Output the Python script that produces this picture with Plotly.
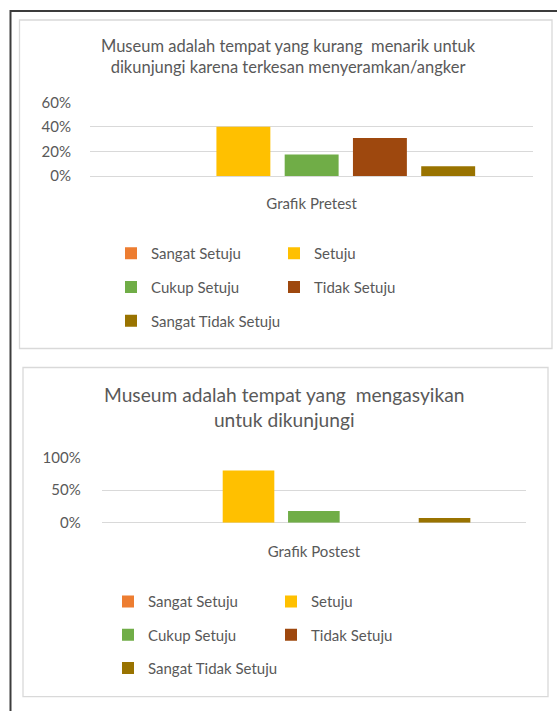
import plotly.graph_objects as go

W, H = 557, 711

categories = ["Sangat Setuju", "Setuju", "Cukup Setuju", "Tidak Setuju", "Sangat Tidak Setuju"]
colors = ["#ED7D31", "#FFC000", "#70AD47", "#9E480E", "#997300"]

pre_label = ["Grafik Pretest"]
pre_values = [0.0, 0.40, 0.176, 0.31, 0.08]
pre_title = "Museum adalah tempat yang kurang  menarik untuk<br>dikunjungi karena terkesan menyeramkan/angker"

post_label = ["Grafik Postest"]
post_values = [0.0, 0.80, 0.18, 0.0, 0.07]
post_title = "Museum adalah tempat yang  mengasyikan<br>untuk dikunjungi"

FONT = "Lato"
GRAY = "#595959"
GRID = "#D9D9D9"


def X(px):
    return px / W


def Y(px):
    return 1 - px / H


fig = go.Figure()

for i, (name, col, v) in enumerate(zip(categories, colors, pre_values)):
    row = i // 2
    fig.add_trace(go.Bar(
        x=pre_label, y=[v], name=name, marker=dict(color=col, line=dict(width=0)),
        xaxis="x", yaxis="y", legend=["legend", "legend2", "legend3"][row]))

for i, (name, col, v) in enumerate(zip(categories, colors, post_values)):
    row = i // 2
    fig.add_trace(go.Bar(
        x=post_label, y=[v], name=name, marker=dict(color=col, line=dict(width=0)),
        xaxis="x2", yaxis="y2", legend=["legend4", "legend5", "legend6"][row]))

axis_font = dict(family=FONT, size=15, color=GRAY)

layout = dict(
    width=W, height=H,
    margin=dict(l=0, r=0, t=0, b=0, autoexpand=False),
    paper_bgcolor="white", plot_bgcolor="white",
    barmode="group", bargap=0.23, bargroupgap=0.21,
    font=dict(family=FONT, color=GRAY),
    xaxis=dict(domain=[X(90), X(533.3)], anchor="y", showgrid=False, showline=False,
               zeroline=False, ticks="outside", ticklen=14, tickcolor="rgba(0,0,0,0)",
               tickfont=axis_font, fixedrange=True, automargin=False),
    yaxis=dict(domain=[Y(176), Y(102.3)], anchor="x", range=[0, 0.6], dtick=0.2,
               tickformat=".0%", showgrid=True, gridcolor=GRID, gridwidth=1,
               zeroline=True, zerolinecolor=GRID, zerolinewidth=1, showline=False,
               ticks="outside", ticklen=15, tickcolor="rgba(0,0,0,0)",
               tickfont=axis_font, fixedrange=True, automargin=False),
    xaxis2=dict(domain=[X(101.7), X(526)], anchor="y2", showgrid=False, showline=False,
                zeroline=False, ticks="outside", ticklen=15, tickcolor="rgba(0,0,0,0)",
                tickfont=axis_font, fixedrange=True, automargin=False),
    yaxis2=dict(domain=[Y(522.7), Y(457.3)], anchor="x2", range=[0, 1], dtick=0.5,
                tickformat=".0%", showgrid=True, gridcolor=GRID, gridwidth=1,
                zeroline=True, zerolinecolor=GRID, zerolinewidth=1, showline=False,
                ticks="outside", ticklen=17, tickcolor="rgba(0,0,0,0)",
                tickfont=axis_font, fixedrange=True, automargin=False),
    showlegend=True,
)

legend_rows = [
    ("legend", 111, 253.5, 118), ("legend2", 111, 287.3, 118), ("legend3", 111, 321, 170),
    ("legend4", 108, 601.7, 118), ("legend5", 108, 635, 118), ("legend6", 108, 668.3, 170),
]
for key, lx, ly, ew in legend_rows:
    layout[key] = dict(orientation="h", x=X(lx), xanchor="left", y=Y(ly), yanchor="middle",
                       entrywidth=ew, entrywidthmode="pixels", bgcolor="rgba(0,0,0,0)",
                       borderwidth=0, font=dict(family=FONT, size=15, color=GRAY),
                       itemclick=False, itemdoubleclick=False)

layout["annotations"] = [
    dict(text=pre_title, x=X(288.5), y=Y(56.5), xref="paper", yref="paper", showarrow=False,
         xanchor="center", yanchor="middle", align="center",
         font=dict(family=FONT, size=16.5, color=GRAY)),
    dict(text=post_title, x=X(284), y=Y(406.5), xref="paper", yref="paper", showarrow=False,
         xanchor="center", yanchor="middle", align="center",
         font=dict(family=FONT, size=19.2, color=GRAY)),
]

layout["shapes"] = [
    dict(type="rect", xref="paper", yref="paper", x0=X(10.5), x1=X(570), y0=Y(11), y1=Y(720),
         line=dict(color="#3C3C3C", width=2), layer="above"),
    dict(type="rect", xref="paper", yref="paper", x0=X(19.5), x1=X(552), y0=Y(20), y1=Y(348.5),
         line=dict(color=GRID, width=1.3), layer="below"),
    dict(type="rect", xref="paper", yref="paper", x0=X(23), x1=X(548), y0=Y(367.5), y1=Y(696.7),
         line=dict(color=GRID, width=1.3), layer="below"),
]

fig.update_layout(**layout)
fig.write_html("out.html", config={"displayModeBar": False})
